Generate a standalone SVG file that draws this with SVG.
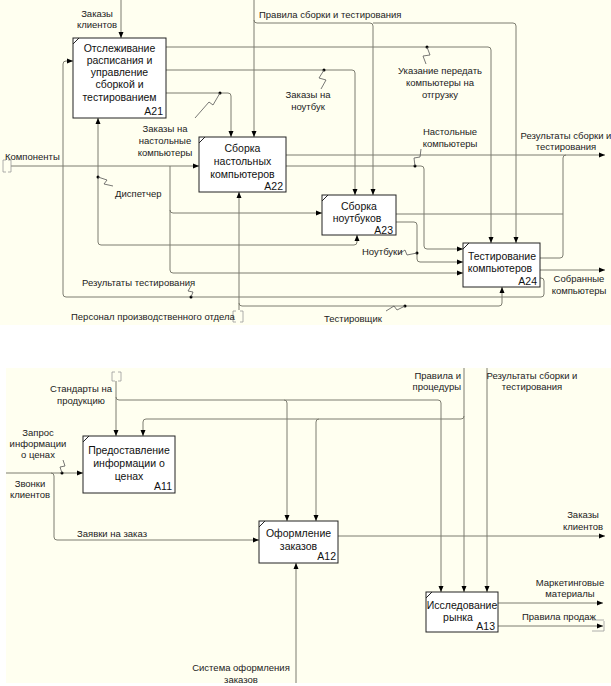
<svg xmlns="http://www.w3.org/2000/svg" width="611" height="686" viewBox="0 0 611 686">
<defs>
<marker id="ah" markerWidth="6" markerHeight="6" refX="6" refY="3" orient="auto" markerUnits="userSpaceOnUse">
<path d="M0,0.5 L6,3 L0,5.5 z" fill="#000"/>
</marker>
<style>
.bg{fill:#FFFFF0}
.box{fill:#fff;stroke:#222;stroke-width:1}
.tick{stroke:#222;stroke-width:1;fill:none}
.bt{font-family:"Liberation Sans",Arial,sans-serif;font-size:10.5px;fill:#111;text-anchor:middle}
.num{font-family:"Liberation Sans",Arial,sans-serif;font-size:10.5px;fill:#111;text-anchor:end}
.lb{font-family:"Liberation Sans",Arial,sans-serif;font-size:9.5px;fill:#222;text-anchor:middle}
.lbe{font-family:"Liberation Sans",Arial,sans-serif;font-size:9.5px;fill:#222;text-anchor:end}
.lbs{font-family:"Liberation Sans",Arial,sans-serif;font-size:9.5px;fill:#222}
.c{fill:none;stroke:#7d7d70;stroke-width:1}
.ca{fill:none;stroke:#7d7d70;stroke-width:1;marker-end:url(#ah)}
.sq{fill:none;stroke:#555;stroke-width:0.8}
.tn{fill:none;stroke:#999;stroke-width:0.8}
.dot{fill:#000}
</style>
</defs>
<rect class="bg" x="0" y="0" width="611" height="325"/>
<rect class="bg" x="6" y="368" width="605" height="315"/>

<g id="connectors">
<!-- top diagram -->
<path class="ca" d="M121,0 V38"/>
<path class="ca" d="M11,166 H199"/>
<path class="ca" d="M170,166 V210 Q170,213 173,213 H322"/>
<path class="ca" d="M170,210 V270 Q170,273 173,273 H463"/>
<path class="ca" d="M254,0 V137"/>
<path class="ca" d="M254,20 Q254,23 257,23 H370 Q373,23 373,26 V195"/>
<path class="ca" d="M373,23 H513 Q516,23 516,26 V243"/>
<path class="ca" d="M166,47 H488 Q491,47 491,50 V243"/>
<path class="ca" d="M166,70 H352 Q355,70 355,73 V195"/>
<path class="ca" d="M166,93 H228 Q231,93 231,96 V137"/>
<path class="ca" d="M286,155 H605"/>
<path class="ca" d="M286,166 H421 Q424,166 424,169 V246 Q424,249 427,249 H463"/>
<path class="c" d="M396,214 H563"/>
<path class="c" d="M540,258 H560 Q563,258 563,255 V158 Q563,155 566,155"/>
<path class="ca" d="M396,222 H414 Q417,222 417,225 V259 Q417,262 420,262 H463"/>
<path class="ca" d="M540,270 H605"/>
<path class="ca" d="M540,278 H541 Q544,278 544,281 V294 Q544,297 541,297 H66 Q63,297 63,294 V64 Q63,61 66,61 H73"/>
<path class="ca" d="M239,310 V192"/>
<path class="ca" d="M239,303 Q239,306 242,306 H499 Q502,306 502,303 V287"/>
<path class="ca" d="M239,245 H101 Q98,245 98,242 V118"/>
<path class="ca" d="M239,245 H354 Q357,245 357,242 V235"/>
<circle class="dot" cx="220" cy="93" r="1.5"/>
<polyline class="sq" points="220,93 213,105 209,102 195,118"/>
<circle class="dot" cx="324" cy="70" r="1.5"/>
<polyline class="sq" points="324,70 319,78 326,80 321,89"/>
<circle class="dot" cx="427" cy="47" r="1.5"/>
<polyline class="sq" points="427,47 430,55 423,56 426,64"/>
<circle class="dot" cx="415" cy="166" r="1.5"/>
<polyline class="sq" points="421,149 420,157 414,158 415,166"/>
<circle class="dot" cx="98" cy="177" r="1.5"/>
<polyline class="sq" points="98,177 107,180 104,184 113,186"/>
<circle class="dot" cx="191" cy="297" r="1.5"/>
<polyline class="sq" points="191,297 193,292 188,291 191,286"/>
<circle class="dot" cx="405" cy="306" r="1.5"/>
<polyline class="sq" points="405,306 397,310 394,306 386,311"/>
<circle class="dot" cx="417" cy="253" r="1.5"/>
<polyline class="sq" points="399,254 405,250 407,255 417,253"/>
<path class="tn" d="M6,160 H3 V172 H6 M8,160 H11 V172 H8"/>
<path class="tn" d="M236,311 H233 V322 H236 M240,311 H243 V322 H240"/>

<!-- bottom diagram -->
<path class="ca" d="M116,381 V436"/>
<path class="ca" d="M116,397 Q116,400 119,400 H438 Q441,400 441,403 V592"/>
<path class="ca" d="M284,400 Q287,400 287,403 V521"/>
<path class="ca" d="M464,368 V592"/>
<path class="ca" d="M464,416 Q464,419 461,419 H146 Q143,419 143,422 V436"/>
<path class="ca" d="M319,419 Q316,419 316,422 V521"/>
<path class="ca" d="M487,368 V592"/>
<path class="ca" d="M6,473 H83"/>
<path class="ca" d="M51,473 Q54,473 54,476 V537 Q54,540 57,540 H259"/>
<path class="ca" d="M338,536 H605"/>
<path class="ca" d="M296,683 V563"/>
<path class="ca" d="M498,603 H603"/>
<path class="ca" d="M498,626 H603"/>
<circle class="dot" cx="62" cy="473" r="1.5"/>
<polyline class="sq" points="62,473 60,467 65,466 63,460"/>
<path class="tn" d="M115,372 H112 V381 H115 M118,372 H121 V381 H118"/>
<path class="tn" d="M592,620 H604 M592,631 H604 V621"/>
</g>

<g id="A21">
<rect class="box" x="73" y="38" width="93" height="80"/>
<path class="tick" d="M73,44 L79,38"/>
<text class="bt" x="119.5" y="52">Отслеживание</text>
<text class="bt" x="119.5" y="64">расписания и</text>
<text class="bt" x="119.5" y="76">управление</text>
<text class="bt" x="119.5" y="88">сборкой и</text>
<text class="bt" x="119.5" y="101">тестированием</text>
<text class="num" x="163" y="115">A21</text>
</g>
<g id="A22">
<rect class="box" x="199" y="137" width="87" height="55"/>
<path class="tick" d="M199,143 L205,137"/>
<text class="bt" x="242.5" y="152">Сборка</text>
<text class="bt" x="242.5" y="165">настольных</text>
<text class="bt" x="242.5" y="178">компьютеров</text>
<text class="num" x="283" y="190">A22</text>
</g>
<g id="A23">
<rect class="box" x="322" y="195" width="74" height="40"/>
<path class="tick" d="M322,201 L328,195"/>
<text class="bt" x="359" y="210">Сборка</text>
<text class="bt" x="357" y="222">ноутбуков</text>
<text class="num" x="393" y="233.5">A23</text>
</g>
<g id="A24">
<rect class="box" x="463" y="243" width="77" height="44"/>
<path class="tick" d="M463,249 L469,243"/>
<text class="bt" x="502" y="260">Тестирование</text>
<text class="bt" x="500" y="272">компьютеров</text>
<text class="num" x="537" y="285">A24</text>
</g>

<g id="labels-top">
<text class="lb" x="97" y="17">Заказы</text>
<text class="lb" x="97" y="28">клиентов</text>
<text class="lbs" x="259" y="18">Правила сборки и тестирования</text>
<text class="lb" x="165" y="132">Заказы на</text>
<text class="lb" x="165" y="144">настольные</text>
<text class="lb" x="165" y="156">компьютеры</text>
<text class="lb" x="308" y="98">Заказы на</text>
<text class="lb" x="308" y="110">ноутбук</text>
<text class="lb" x="440" y="74">Указание передать</text>
<text class="lb" x="440" y="86">компьютеры на</text>
<text class="lb" x="440" y="98">отгрузку</text>
<text class="lb" x="450" y="135">Настольные</text>
<text class="lb" x="450" y="147">компьютеры</text>
<text class="lb" x="566" y="139">Результаты сборки и</text>
<text class="lb" x="566" y="150">тестирования</text>
<text class="lbs" x="5" y="160">Компоненты</text>
<text class="lbs" x="115" y="197">Диспетчер</text>
<text class="lbs" x="82" y="286">Результаты тестирования</text>
<text class="lbs" x="71" y="320">Персонал производственного отдела</text>
<text class="lbs" x="324" y="322">Тестировщик</text>
<text class="lbs" x="362" y="255">Ноутбуки</text>
<text class="lb" x="579" y="282">Собранные</text>
<text class="lb" x="579" y="294">компьютеры</text>
</g>

<g id="A11">
<rect class="box" x="83" y="436" width="92" height="57"/>
<path class="tick" d="M83,442 L89,436"/>
<text class="bt" x="129" y="454">Предоставление</text>
<text class="bt" x="129" y="467">информации о</text>
<text class="bt" x="129" y="480">ценах</text>
<text class="num" x="172" y="490">A11</text>
</g>
<g id="A12">
<rect class="box" x="259" y="521" width="79" height="42"/>
<path class="tick" d="M259,527 L265,521"/>
<text class="bt" x="298.5" y="537">Оформление</text>
<text class="bt" x="298.5" y="550">заказов</text>
<text class="num" x="336" y="560">A12</text>
</g>
<g id="A13">
<rect class="box" x="426" y="592" width="72" height="40"/>
<path class="tick" d="M426,598 L432,592"/>
<text class="bt" x="462" y="609">Исследование</text>
<text class="bt" x="458" y="621">рынка</text>
<text class="num" x="495" y="630">A13</text>
</g>

<g id="labels-bottom">
<text class="lb" x="81" y="392">Стандарты на</text>
<text class="lb" x="81" y="404">продукцию</text>
<text class="lb" x="38" y="436">Запрос</text>
<text class="lb" x="38" y="447">информации</text>
<text class="lb" x="38" y="458">о ценах</text>
<text class="lb" x="30" y="487">Звонки</text>
<text class="lb" x="30" y="498">клиентов</text>
<text class="lbs" x="77" y="537">Заявки на заказ</text>
<text class="lb" x="241" y="671">Система оформления</text>
<text class="lb" x="241" y="683">заказов</text>
<text class="lbe" x="461" y="379">Правила и</text>
<text class="lbe" x="461" y="390">процедуры</text>
<text class="lb" x="532" y="379">Результаты сборки и</text>
<text class="lb" x="532" y="390">тестирования</text>
<text class="lb" x="583" y="518">Заказы</text>
<text class="lb" x="583" y="530">клиентов</text>
<text class="lb" x="570" y="586">Маркетинговые</text>
<text class="lb" x="570" y="597">материалы</text>
<text class="lbs" x="522" y="620">Правила продаж</text>
</g>
</svg>
